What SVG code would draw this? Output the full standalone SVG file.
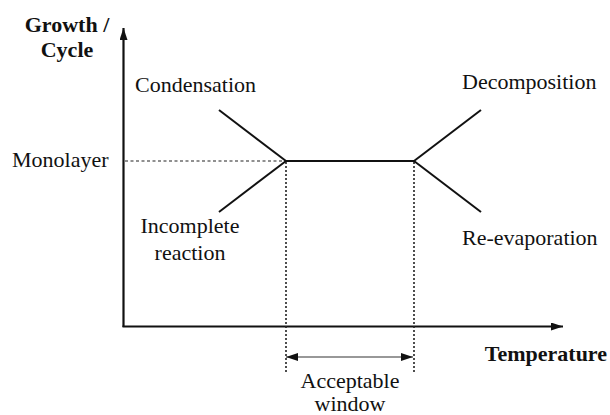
<svg xmlns="http://www.w3.org/2000/svg" width="610" height="415" viewBox="0 0 610 415">
<style>
.t{font-family:"Times New Roman","Liberation Serif",Tinos,"Nimbus Roman","DejaVu Serif",serif;font-size:22px;fill:#111}
.b{font-weight:bold}
.ax{stroke:#111;stroke-width:2.2;fill:none}
.ln{stroke:#111;stroke-width:2;fill:none}
.dh{stroke:#222;stroke-width:1.2;stroke-dasharray:3,2.5;fill:none}
.dv{stroke:#222;stroke-width:1.6;stroke-dasharray:2,2;fill:none}
.ar{stroke:#333;stroke-width:1.2;fill:none}
</style>
<defs>
<marker id="ah" viewBox="0 0 12 8" refX="12" refY="4" markerWidth="12" markerHeight="8" markerUnits="userSpaceOnUse" orient="auto">
<path d="M0,0 L12,4 L0,8 z" fill="#111"/>
</marker>
<marker id="ahs" viewBox="0 0 12 8" refX="12" refY="4" markerWidth="12" markerHeight="8" markerUnits="userSpaceOnUse" orient="auto-start-reverse">
<path d="M0,0 L12,4 L0,8 z" fill="#111"/>
</marker>
</defs>
<g id="axes">
<line class="ax" x1="123.5" y1="327" x2="123.5" y2="28" marker-end="url(#ah)"/>
<line class="ax" x1="122.5" y1="326.5" x2="563" y2="326.5" marker-end="url(#ah)"/>
</g>
<g id="connectors">
<line class="dh" x1="125" y1="161" x2="285" y2="161"/>
<line class="dv" x1="286" y1="162" x2="286" y2="374"/>
<line class="dv" x1="414" y1="162" x2="414" y2="374"/>
<line class="ln" x1="219" y1="110" x2="286" y2="161"/>
<line class="ln" x1="219" y1="212" x2="286" y2="161"/>
<line class="ln" x1="286" y1="161" x2="414" y2="161"/>
<line class="ln" x1="414" y1="161" x2="481" y2="110"/>
<line class="ln" x1="414" y1="161" x2="481" y2="212"/>
<line class="ar" x1="286" y1="357" x2="413" y2="357" marker-start="url(#ahs)" marker-end="url(#ah)"/>
</g>
<g id="ylabel"><text class="t b" x="67" y="32" text-anchor="middle">Growth /</text><text class="t b" x="67" y="57" text-anchor="middle">Cycle</text></g>
<g id="condensation"><text class="t" x="135" y="92">Condensation</text></g>
<g id="monolayer"><text class="t" x="12" y="167">Monolayer</text></g>
<g id="decomposition"><text class="t" x="462" y="89">Decomposition</text></g>
<g id="incomplete"><text class="t" x="190" y="233" text-anchor="middle">Incomplete</text><text class="t" x="190" y="260" text-anchor="middle">reaction</text></g>
<g id="reevaporation"><text class="t" x="462" y="245">Re-evaporation</text></g>
<g id="temperature"><text class="t b" x="607" y="361" text-anchor="end">Temperature</text></g>
<g id="window"><text class="t" x="350" y="388" text-anchor="middle">Acceptable</text><text class="t" x="350" y="411" text-anchor="middle">window</text></g>
</svg>
